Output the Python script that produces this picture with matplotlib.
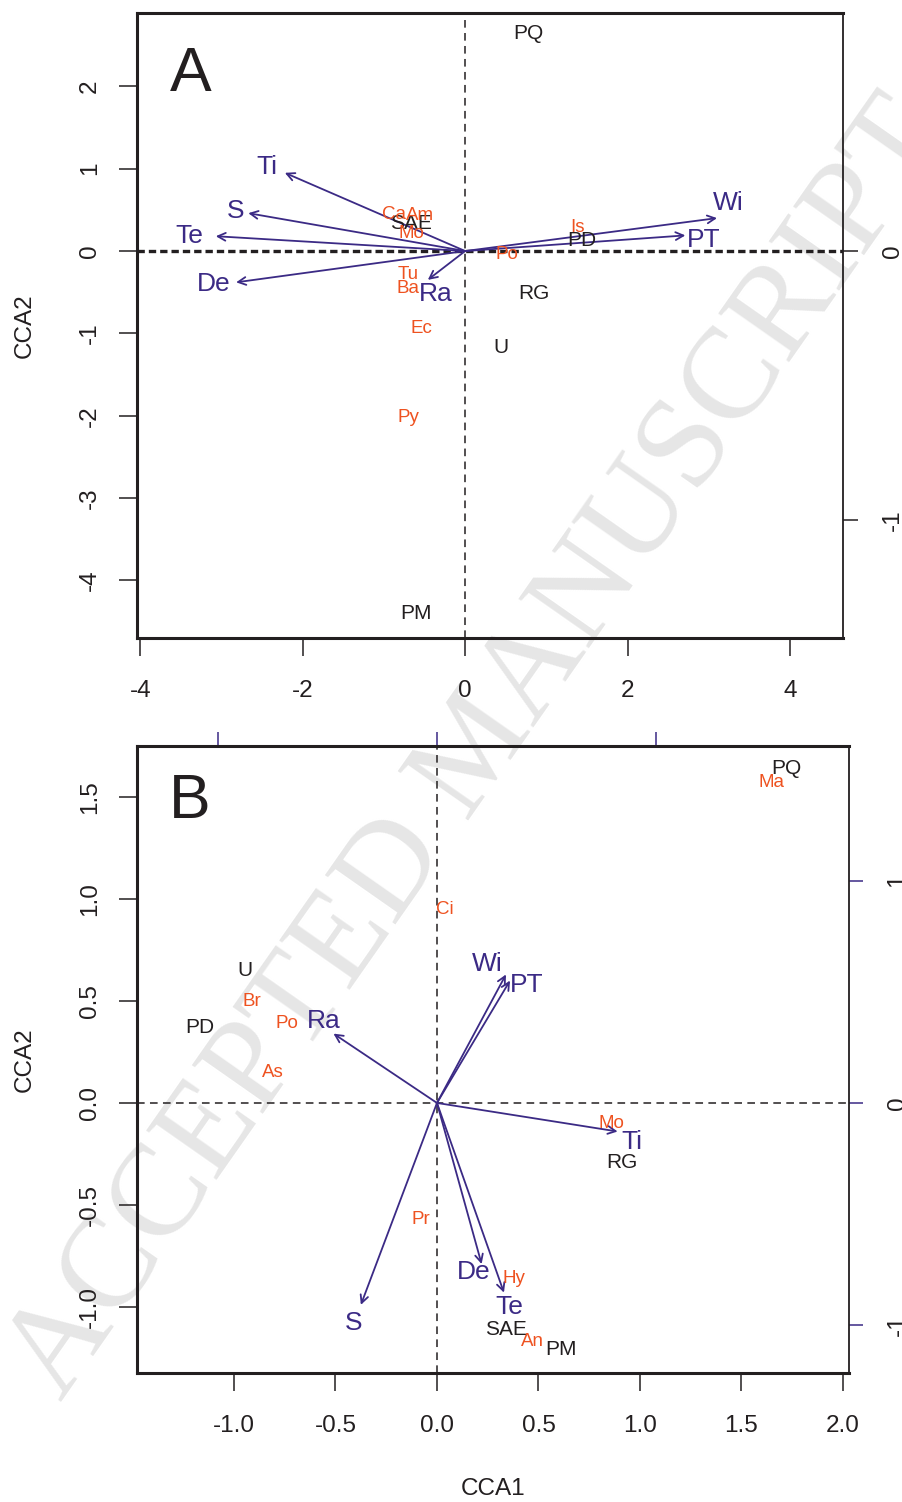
import matplotlib
matplotlib.use("Agg")
import matplotlib.pyplot as plt
from matplotlib import font_manager

# panel A: CCA1 x CCA2 scores
a_site_names = ['PQ', 'SAE', 'PD', 'RG', 'U', 'PM']
a_site_x = [0.78, -0.665, 1.44, 0.85, 0.44, -0.60]
a_site_y = [2.64, 0.33, 0.13, -0.51, -1.17, -4.40]

a_sp_names = ['Ca', 'Am', 'Mo', 'Is', 'Po', 'Tu', 'Ba', 'Ec', 'Py']
a_sp_x = [-0.88, -0.55, -0.665, 1.38, 0.52, -0.70, -0.70, -0.54, -0.70]
a_sp_y = [0.44, 0.43, 0.21, 0.29, -0.04, -0.29, -0.45, -0.94, -2.02]

a_env_names = ['Ti', 'S', 'Te', 'De', 'Ra', 'Wi', 'PT']
a_env_x = [-2.22, -2.67, -3.07, -2.82, -0.46, 3.10, 2.71]
a_env_y = [0.95, 0.46, 0.18, -0.38, -0.35, 0.40, 0.19]
a_lab_x = [-2.44, -2.83, -3.39, -3.10, -0.36, 3.24, 2.93]
a_lab_y = [1.02, 0.49, 0.18, -0.40, -0.52, 0.58, 0.13]

# panel B
b_site_names = ['PQ', 'U', 'PD', 'RG', 'SAE', 'PM']
b_site_x = [1.72, -0.946, -1.17, 0.91, 0.34, 0.61]
b_site_y = [1.64, 0.647, 0.37, -0.29, -1.11, -1.21]

b_sp_names = ['Ma', 'Ci', 'Br', 'Po', 'As', 'Mo', 'Pr', 'Hy', 'An']
b_sp_x = [1.65, 0.04, -0.91, -0.74, -0.81, 0.86, -0.08, 0.38, 0.47]
b_sp_y = [1.57, 0.95, 0.495, 0.39, 0.15, -0.10, -0.57, -0.86, -1.17]

b_env_names = ['Wi', 'PT', 'Ra', 'Ti', 'De', 'Te', 'S']
b_env_x = [0.34, 0.36, -0.51, 0.89, 0.22, 0.33, -0.375]
b_env_y = [0.63, 0.60, 0.34, -0.14, -0.79, -0.93, -0.99]
b_lab_x = [0.25, 0.44, -0.56, 0.96, 0.18, 0.355, -0.41]
b_lab_y = [0.68, 0.58, 0.40, -0.19, -0.83, -1.00, -1.08]

INK = '#231f20'
ORANGE = '#ee5220'
PURPLE = '#3b2a85'

names = {f.name for f in font_manager.fontManager.ttflist}
FAM = 'Liberation Sans Narrow' if 'Liberation Sans Narrow' in names else 'Liberation Sans'
plt.rcParams['font.family'] = FAM
plt.rcParams['axes.unicode_minus'] = False

fig = plt.figure(figsize=(9.03, 15.02), dpi=100)

# watermark behind everything
fig.text(0.068, 0.066, 'ACCEPTED MANUSCRIPT', family='Liberation Serif',
         fontsize=94, color='#e6e6e6', rotation=55, rotation_mode='anchor',
         ha='left', va='baseline', zorder=-5)


def style_axes(ax):
    ax.set_facecolor('none')
    for side in ['left', 'bottom', 'top']:
        ax.spines[side].set_linewidth(2.2)
        ax.spines[side].set_color(INK)
    ax.spines['right'].set_linewidth(1.3)
    ax.spines['right'].set_color(INK)
    ax.tick_params(direction='out', length=13, width=1.1, color=INK,
                   labelsize=17.5, labelcolor=INK)
    ax.tick_params(axis='x', pad=17)
    ax.tick_params(axis='y', labelrotation=90, pad=13)
    for lab in ax.get_yticklabels():
        lab.set_va('center')


def draw_panel(ax, sx, sy, snames, px, py, pnames, ex, ey, lx, ly, enames):
    for x, y, n in zip(sx, sy, snames):
        ax.text(x, y, n, color=INK, fontsize=15, ha='center', va='center', zorder=4)
    for x, y, n in zip(px, py, pnames):
        ax.text(x, y, n, color=ORANGE, fontsize=13.5, ha='center', va='center', zorder=4)
    for x, y, tx, ty, n in zip(ex, ey, lx, ly, enames):
        ax.annotate('', xy=(x, y), xytext=(0, 0),
                    arrowprops=dict(arrowstyle='->', color=PURPLE, lw=1.3,
                                    shrinkA=0, shrinkB=0, mutation_scale=14),
                    zorder=3)
        ax.text(tx, ty, n, color=PURPLE, fontsize=19, ha='center', va='center', zorder=4)


# ---- panel A ----
axA = fig.add_axes([0.1517, 0.5752, 0.7818, 0.4161])
axA.set_xlim(-4.04, 4.65)
axA.set_ylim(-4.70, 2.89)
axA.set_xticks([-4, -2, 0, 2, 4])
axA.set_yticks([-4, -3, -2, -1, 0, 1, 2])
axA.axhline(0, color=INK, lw=2.4, ls=(0, (2.2, 1.2)), zorder=1)
axA.axvline(0, color=INK, lw=1.1, ls=(0, (5, 3.5)), zorder=1)
style_axes(axA)
draw_panel(axA, a_site_x, a_site_y, a_site_names, a_sp_x, a_sp_y, a_sp_names,
           a_env_x, a_env_y, a_lab_x, a_lab_y, a_env_names)
axA.text(-3.63, 2.15, 'A', fontsize=45, color=INK, ha='left', va='center')
axA.set_ylabel('CCA2', fontsize=17.5, color=INK, labelpad=31)

secA = axA.secondary_yaxis('right', functions=(lambda v: v / 3.27, lambda v: v * 3.27))
secA.set_yticks([-1, 0])
secA.spines['right'].set_visible(False)
secA.tick_params(direction='out', length=11, width=1.1, color=INK,
                 labelsize=17.5, labelcolor=INK, pad=17, labelrotation=90)
for lab in secA.get_yticklabels():
    lab.set_va('center')

# ---- panel B ----
axB = fig.add_axes([0.1517, 0.0859, 0.7885, 0.4174])
axB.set_xlim(-1.478, 2.03)
axB.set_ylim(-1.324, 1.75)
axB.set_xticks([-1.0, -0.5, 0.0, 0.5, 1.0, 1.5, 2.0])
axB.set_yticks([-1.0, -0.5, 0.0, 0.5, 1.0, 1.5])
axB.set_xticklabels(['-1.0', '-0.5', '0.0', '0.5', '1.0', '1.5', '2.0'])
axB.set_yticklabels(['-1.0', '-0.5', '0.0', '0.5', '1.0', '1.5'])
axB.axhline(0, color=INK, lw=1.1, ls=(0, (5, 3.5)), zorder=1)
axB.axvline(0, color=INK, lw=1.1, ls=(0, (5, 3.5)), zorder=1)
style_axes(axB)
draw_panel(axB, b_site_x, b_site_y, b_site_names, b_sp_x, b_sp_y, b_sp_names,
           b_env_x, b_env_y, b_lab_x, b_lab_y, b_env_names)
axB.text(-1.32, 1.48, 'B', fontsize=45, color=INK, ha='left', va='center')
axB.set_ylabel('CCA2', fontsize=17.5, color=INK, labelpad=31)
axB.set_xlabel('CCA1', fontsize=17.5, color=INK, labelpad=30)

secBr = axB.secondary_yaxis('right', functions=(lambda v: v / 1.09, lambda v: v * 1.09))
secBr.set_yticks([-1, 0, 1])
secBr.spines['right'].set_visible(False)
secBr.tick_params(direction='out', length=10, width=1.1, color=PURPLE,
                  labelsize=17.5, labelcolor=INK, pad=17, labelrotation=90)
for lab in secBr.get_yticklabels():
    lab.set_va('center')

secBt = axB.secondary_xaxis('top', functions=(lambda v: v / 1.081, lambda v: v * 1.081))
secBt.set_xticks([-1, 0, 1])
secBt.spines['top'].set_visible(False)
secBt.tick_params(direction='out', length=10, width=1.1, color=PURPLE,
                  labeltop=False)

fig.savefig('out.png', dpi=100)
